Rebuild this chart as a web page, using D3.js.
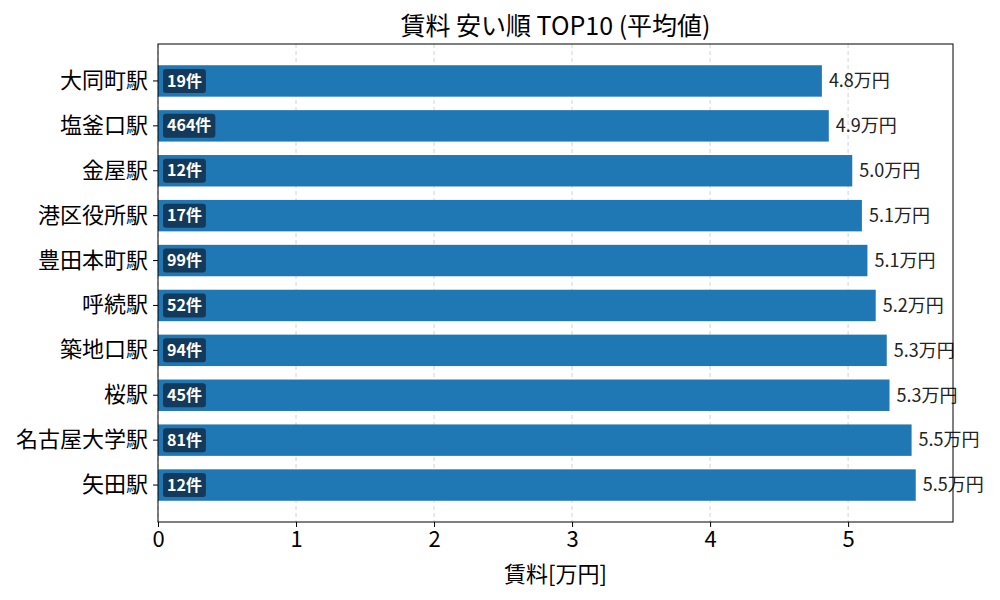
<!DOCTYPE html>
<html>
<head>
<meta charset="utf-8">
<script src="https://cdn.jsdelivr.net/npm/d3@7"></script>
<style>
  body { margin: 0; background: #fff; }
  text { font-family: "Noto Sans CJK JP", "Noto Sans", sans-serif; }
</style>
</head>
<body>
<div id="chart"></div>
<script>
// data
const stations = ["大同町駅", "塩釜口駅", "金屋駅", "港区役所駅", "豊田本町駅", "呼続駅", "築地口駅", "桜駅", "名古屋大学駅", "矢田駅"];
const rents = [4.81, 4.86, 5.03, 5.10, 5.14, 5.20, 5.28, 5.30, 5.46, 5.49];
const counts = [19, 464, 12, 17, 99, 52, 94, 45, 81, 12];
const xTicks = [0, 1, 2, 3, 4, 5];

const W = 1000, H = 600;
const margin = { top: 44, right: 47, bottom: 78, left: 158 };
const innerW = W - margin.left - margin.right;
const innerH = H - margin.top - margin.bottom;

const svg = d3.select("#chart").append("svg")
    .attr("width", W)
    .attr("height", H);

const g = svg.append("g")
    .attr("transform", `translate(${margin.left},${margin.top})`);

const x = d3.scaleLinear()
    .domain([0, 5.76])
    .range([0, innerW]);

const y = d3.scaleBand()
    .domain(stations)
    .range([0, innerH])
    .paddingInner(0.3)
    .paddingOuter(0.473);

// grid
g.append("g")
  .selectAll("line")
  .data(xTicks)
  .join("line")
    .attr("x1", d => x(d)).attr("x2", d => x(d))
    .attr("y1", 0).attr("y2", innerH)
    .attr("stroke", "#c8c8c8")
    .attr("stroke-width", 0.8)
    .attr("stroke-dasharray", "4,3");

// bars
g.append("g")
  .selectAll("rect")
  .data(stations)
  .join("rect")
    .attr("x", x(0))
    .attr("y", d => y(d))
    .attr("width", (d, i) => x(rents[i]) - x(0))
    .attr("height", y.bandwidth())
    .attr("fill", "#1f77b4");

// value labels
g.append("g")
  .selectAll("text")
  .data(stations)
  .join("text")
    .attr("x", (d, i) => x(rents[i]) + 7)
    .attr("y", d => y(d) + y.bandwidth() / 2)
    .attr("dy", "0.35em")
    .attr("font-size", 18)
    .attr("fill", "#222")
    .text((d, i) => rents[i].toFixed(1) + "万円");

// count badges
const badge = g.append("g")
  .selectAll("g")
  .data(stations)
  .join("g")
    .attr("transform", d => `translate(5,${y(d) + y.bandwidth() / 2})`);

badge.append("text")
    .attr("x", 4)
    .attr("dy", "0.35em")
    .attr("font-size", 16)
    .attr("font-weight", "bold")
    .attr("fill", "#fff")
    .text((d, i) => counts[i] + "件")
    .each(function() {
        const b = this.getBBox();
        d3.select(this.parentNode).insert("rect", "text")
            .attr("x", 0)
            .attr("y", -12)
            .attr("width", b.width + 8)
            .attr("height", 24)
            .attr("rx", 3)
            .attr("fill", "#133a5a");
    });

// axes
const xAxis = g.append("g")
    .attr("transform", `translate(0,${innerH})`)
    .call(d3.axisBottom(x).tickValues(xTicks).tickFormat(d3.format("d")).tickSize(5).tickPadding(4));
xAxis.selectAll("text").attr("font-size", 22).attr("fill", "#000");

const yAxis = g.append("g")
    .call(d3.axisLeft(y).tickSize(5).tickPadding(5));
yAxis.selectAll("text").attr("font-size", 22).attr("fill", "#000");

[xAxis, yAxis].forEach(a => {
    a.select(".domain").remove();
    a.selectAll("line").attr("stroke", "#000");
});

// frame
g.append("rect")
    .attr("width", innerW)
    .attr("height", innerH)
    .attr("fill", "none")
    .attr("stroke", "#000")
    .attr("stroke-width", 1);

// titles
svg.append("text")
    .attr("x", margin.left + innerW / 2)
    .attr("y", 35)
    .attr("text-anchor", "middle")
    .attr("font-size", 25)
    .attr("fill", "#000")
    .text("賃料 安い順 TOP10 (平均値)");

svg.append("text")
    .attr("x", margin.left + innerW / 2)
    .attr("y", 582)
    .attr("text-anchor", "middle")
    .attr("font-size", 22)
    .attr("fill", "#000")
    .text("賃料[万円]");
</script>
</body>
</html>
